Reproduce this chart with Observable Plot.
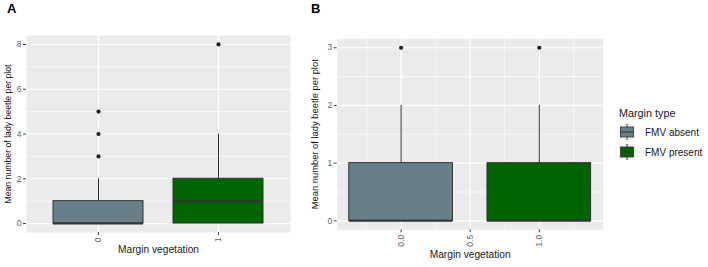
<!DOCTYPE html>
<html>
<head>
<meta charset="utf-8">
<script src="https://cdn.jsdelivr.net/npm/d3@7"></script>
<script src="https://cdn.jsdelivr.net/npm/@observablehq/plot@0.6"></script>
<style>
  html, body { margin: 0; padding: 0; background: #fff; }
  #root { position: relative; width: 708px; height: 267px; font-family: "Liberation Sans", Arial, sans-serif; }
  .panel { position: absolute; top: 0; }
  .tag { position: absolute; font-weight: bold; font-size: 13px; color: #000; z-index: 2; }
  #legend { position: absolute; left: 619px; top: 107px; font-size: 10px; color: #1a1a1a; }
  #legend .title { font-size: 10.8px; margin-bottom: 3px; }
  #legend .row { display: flex; align-items: center; height: 20px; }
  #legend .row svg { margin-right: 10px; }
</style>
</head>
<body>
<div id="root">
  <div id="panelA" class="panel" style="left:0px"></div>
  <div id="panelB" class="panel" style="left:310px"></div>
  <div class="tag" style="left:7px;top:1px">A</div>
  <div class="tag" style="left:311px;top:1px">B</div>
  <div id="legend"></div>
</div>
<script>
// ---- data ----
const groups = ["FMV absent", "FMV present"];
const colors = ["#687f89", "#006400"];
const yTitle = "Mean number of lady beetle per plot";
const xTitle = "Margin vegetation";
const legendTitle = "Margin type";

// Panel A (discrete x: "0", "1")
const catsA = ["0", "1"];
const lowA = [0, 0];
const q1A = [0, 0];
const medA = [0, 1];
const q3A = [1, 2];
const highA = [2, 4];
const outliersA = [[3, 4, 5], [8]];
const yTicksA = [0, 2, 4, 6, 8];

// Panel B (continuous x: 0, 1)
const xB = [0, 1];
const lowB = [0, 0];
const q1B = [0, 0];
const medB = [0, 0];
const q3B = [1, 1];
const highB = [2, 2];
const outliersB = [[3], [3]];
const yTicksB = [0, 1, 2, 3];
const xTicksB = [0, 0.5, 1];

// ---- helpers ----
function boxes(xs, low, q1, med, q3, high) {
  return xs.map((x, i) => ({x, low: low[i], q1: q1[i], med: med[i], q3: q3[i], high: high[i], g: groups[i]}));
}
function outs(xs, o) {
  return o.flatMap((vals, i) => vals.map(v => ({x: xs[i], y: v, g: groups[i]})));
}
const hw = 0.375;
const colorScale = {domain: groups, range: colors};

function boxMarks(B, O) {
  return [
    Plot.ruleX(B, {x: "x", y1: "q3", y2: "high", stroke: "#333", strokeWidth: 1}),
    Plot.ruleX(B, {x: "x", y1: "low", y2: "q1", stroke: "#333", strokeWidth: 1}),
    Plot.rect(B, {x1: d => d.x - hw, x2: d => d.x + hw, y1: "q1", y2: "q3", fill: "g", stroke: "#333", strokeWidth: 1}),
    Plot.ruleY(B, {y: "med", x1: d => d.x - hw, x2: d => d.x + hw, stroke: "#333", strokeWidth: 2}),
    Plot.dot(O, {x: "x", y: "y", r: 2.1, fill: "#222", stroke: null})
  ];
}

// ---- Panel A ----
const xsA = [1, 2];
const BA = boxes(xsA, lowA, q1A, medA, q3A, highA);
const OA = outs(xsA, outliersA);
const minorA = yTicksA.slice(0, -1).map((t, i) => (t + yTicksA[i + 1]) / 2);

const plotA = Plot.plot({
  width: 300, height: 267,
  marginLeft: 26, marginRight: 10, marginTop: 35, marginBottom: 35,
  style: {fontFamily: "Liberation Sans, Arial, sans-serif", background: "transparent", overflow: "visible"},
  x: {type: "linear", domain: [0.4, 2.6]},
  y: {domain: [-0.4, 8.4]},
  color: colorScale,
  marks: [
    Plot.frame({fill: "#ebebeb", stroke: null}),
    Plot.ruleY(minorA, {stroke: "#fff", strokeWidth: 0.6}),
    Plot.ruleY(yTicksA, {stroke: "#fff", strokeWidth: 1.2}),
    Plot.ruleX(xsA, {stroke: "#fff", strokeWidth: 1.2}),
    ...boxMarks(BA, OA),
    Plot.axisY({ticks: yTicksA, tickFormat: d3.format("d"), tickSize: 3, tickPadding: 2, fontSize: 8.5, color: "#666", stroke: "#444", label: null}),
    Plot.axisX({ticks: xsA, tickFormat: d => catsA[d - 1], tickRotate: -90, tickSize: 3, tickPadding: 2, fontSize: 8.5, color: "#666", stroke: "#444", label: null}),
    Plot.text([yTitle], {frameAnchor: "left", textAnchor: "middle", dx: -18, rotate: -90, fontSize: 8.7, fill: "#111"}),
    Plot.text([xTitle], {frameAnchor: "bottom", textAnchor: "middle", dy: 20, fontSize: 10.2, fill: "#222"})
  ]
});
document.getElementById("panelA").appendChild(plotA);

// ---- Panel B ----
const BB = boxes(xB, lowB, q1B, medB, q3B, highB);
const OB = outs(xB, outliersB);
const minorYB = yTicksB.slice(0, -1).map((t, i) => (t + yTicksB[i + 1]) / 2);
const minorXB = [-0.25, 0.25, 0.75, 1.25];

const plotB = Plot.plot({
  width: 300, height: 267,
  marginLeft: 26.7, marginRight: 7.3, marginTop: 38.3, marginBottom: 37.7,
  style: {fontFamily: "Liberation Sans, Arial, sans-serif", background: "transparent", overflow: "visible"},
  x: {type: "linear", domain: [-0.4625, 1.4625]},
  y: {domain: [-0.155, 3.155]},
  color: colorScale,
  marks: [
    Plot.frame({fill: "#ebebeb", stroke: null}),
    Plot.ruleY(minorYB, {stroke: "#fff", strokeWidth: 0.6}),
    Plot.ruleX(minorXB, {stroke: "#fff", strokeWidth: 0.6}),
    Plot.ruleY(yTicksB, {stroke: "#fff", strokeWidth: 1.2}),
    Plot.ruleX(xTicksB, {stroke: "#fff", strokeWidth: 1.2}),
    ...boxMarks(BB, OB),
    Plot.axisY({ticks: yTicksB, tickFormat: d3.format("d"), tickSize: 3, tickPadding: 2, fontSize: 8.5, color: "#666", stroke: "#444", label: null}),
    Plot.axisX({ticks: xTicksB, tickFormat: d3.format(".1f"), tickRotate: -90, tickSize: 3, tickPadding: 2, fontSize: 8.5, color: "#666", stroke: "#444", label: null}),
    Plot.text([yTitle], {frameAnchor: "left", textAnchor: "middle", dx: -22, rotate: -90, fontSize: 9.4, fill: "#111"}),
    Plot.text([xTitle], {frameAnchor: "bottom", textAnchor: "middle", dy: 28, fontSize: 10.2, fill: "#222"})
  ]
});
document.getElementById("panelB").appendChild(plotB);

// ---- Legend ----
const leg = document.getElementById("legend");
const t = document.createElement("div");
t.className = "title"; t.textContent = legendTitle;
leg.appendChild(t);
groups.forEach((g, i) => {
  const row = document.createElement("div");
  row.className = "row";
  const ns = "http://www.w3.org/2000/svg";
  const s = document.createElementNS(ns, "svg");
  s.setAttribute("width", 16); s.setAttribute("height", 16);
  s.innerHTML = `<rect x="0" y="0" width="16" height="16" fill="#f2f2f2"/>
    <line x1="8" x2="8" y1="0" y2="3" stroke="#333"/>
    <line x1="8" x2="8" y1="13" y2="16" stroke="#333"/>
    <rect x="1.5" y="3" width="13" height="10" fill="${colors[i]}" stroke="#333" stroke-width="0.8"/>
    <line x1="1.5" x2="14.5" y1="8" y2="8" stroke="#333" stroke-width="1"/>`;
  row.appendChild(s);
  const lab = document.createElement("span");
  lab.textContent = g;
  row.appendChild(lab);
  leg.appendChild(row);
});
</script>
</body>
</html>
